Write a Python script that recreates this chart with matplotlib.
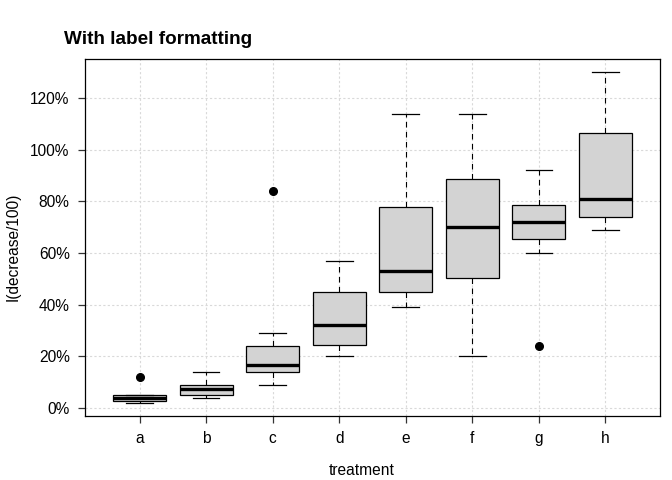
import matplotlib
matplotlib.use("Agg")
import matplotlib.pyplot as plt
import numpy as np
from matplotlib.ticker import FuncFormatter

plt.rcParams['font.family'] = ['Liberation Sans', 'DejaVu Sans']

treatments = ['a', 'b', 'c', 'd', 'e', 'f', 'g', 'h']
decrease = {
    'a': [2, 2, 3, 4, 4, 5, 5, 12],
    'b': [4, 5, 5, 7, 8, 8, 10, 14],
    'c': [9, 13, 15, 16, 17, 19, 29, 84],
    'd': [20, 24, 25, 28, 36, 43, 47, 57],
    'e': [39, 44, 46, 51, 55, 77, 79, 114],
    'f': [20, 44, 57, 69, 71, 86, 91, 114],
    'g': [24, 60, 71, 72, 72, 77, 80, 92],
    'h': [69, 72, 76, 81, 81, 86, 127, 130],
}
y_ticks = [0.0, 0.2, 0.4, 0.6, 0.8, 1.0, 1.2]


def fivenum_stats(vals, label):
    x = np.sort(np.asarray(vals, dtype=float) / 100.0)
    n = len(x)
    n4 = np.floor((n + 3) / 2) / 2
    d = np.array([1, n4, (n + 1) / 2, n + 1 - n4, n]) - 1
    fn = 0.5 * (x[np.floor(d).astype(int)] + x[np.ceil(d).astype(int)])
    q1, med, q3 = fn[1], fn[2], fn[3]
    iqr = q3 - q1
    lo_f, hi_f = q1 - 1.5 * iqr, q3 + 1.5 * iqr
    inside = x[(x >= lo_f) & (x <= hi_f)]
    fliers = x[(x < lo_f) | (x > hi_f)]
    return dict(med=med, q1=q1, q3=q3, whislo=inside.min(), whishi=inside.max(),
                fliers=fliers, label=label)


stats = [fivenum_stats(decrease[t], t) for t in treatments]

fig = plt.figure(figsize=(6.72, 4.8), dpi=100)
ax = fig.add_axes([85 / 672, 1 - 416 / 480, (660 - 85) / 672, (416 - 59) / 480])

ax.set_axisbelow(True)
for t in y_ticks:
    ax.axhline(t, color='#d9d9d9', lw=0.8, ls=(0, (2, 2)), zorder=0)
for i in range(1, len(treatments) + 1):
    ax.axvline(i, color='#d9d9d9', lw=0.8, ls=(0, (2, 2)), zorder=0)

ax.bxp(stats, positions=range(1, len(treatments) + 1), widths=0.8,
       patch_artist=True, showfliers=True,
       boxprops=dict(facecolor='#d3d3d3', edgecolor='black', lw=0.9),
       medianprops=dict(color='black', lw=2.4, solid_capstyle='butt'),
       whiskerprops=dict(color='black', lw=0.8, ls=(0, (5, 4))),
       capprops=dict(color='black', lw=0.9),
       capwidths=0.4,
       flierprops=dict(marker='o', markerfacecolor='black', markeredgecolor='black',
                       markersize=5.5))

ax.set_xlim(0.18, 8.82)
ax.set_ylim(-0.0312, 1.3512)
ax.set_yticks(y_ticks)
ax.yaxis.set_major_formatter(FuncFormatter(lambda v, p: f"{v * 100:.0f}%"))
ax.set_xticks(range(1, len(treatments) + 1))
ax.set_xticklabels(treatments)
ax.tick_params(direction='out', length=5, width=0.9, color='#333333',
               labelsize=11.2, pad=6)
for s in ax.spines.values():
    s.set_linewidth(0.9)

fig.text(64 / 672, 1 - 40 / 480, 'With label formatting', fontsize=13.6,
         fontweight='bold', ha='left', va='center')
fig.text(362 / 672, 1 - 475 / 480, 'treatment', fontsize=11.2,
         ha='center', va='baseline')
fig.text(13.5 / 672, 1 - 247 / 480, 'I(decrease/100)', fontsize=11.2,
         ha='center', va='center', rotation=90)

fig.savefig('out.png', dpi=100)
